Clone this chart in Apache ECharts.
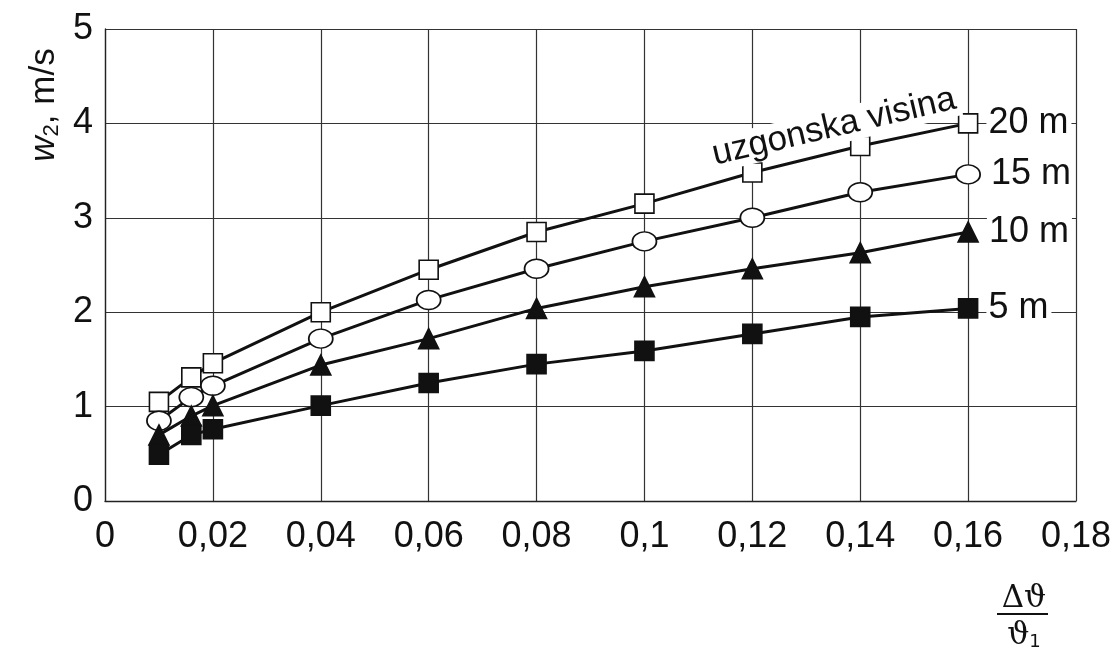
<!DOCTYPE html>
<html>
<head>
<meta charset="utf-8">
<script src="https://cdn.jsdelivr.net/npm/echarts@6/dist/echarts.min.js"></script>
<style>html,body{margin:0;padding:0;background:#fff}#c{width:1118px;height:654px}</style>
</head>
<body>
<div id="c"></div>
<script>
const xValues = [0.01, 0.016, 0.02, 0.04, 0.06, 0.08, 0.1, 0.12, 0.14, 0.16];
const w20 = [1.05, 1.31, 1.46, 2.0, 2.45, 2.85, 3.15, 3.48, 3.76, 4.0];
const w15 = [0.85, 1.1, 1.22, 1.72, 2.13, 2.46, 2.75, 3.0, 3.27, 3.46];
const w10 = [0.7, 0.9, 1.01, 1.44, 1.72, 2.04, 2.27, 2.46, 2.63, 2.85];
const w5 = [0.49, 0.7, 0.76, 1.01, 1.25, 1.45, 1.59, 1.77, 1.95, 2.04];
const seriesNames = ['20 m', '15 m', '10 m', '5 m'];
const annotation = 'uzgonska visina';

const FONT = '"Liberation Sans", Arial, sans-serif';
const chart = echarts.init(document.getElementById('c'), null, {renderer: 'canvas'});

function mk(name, vals, symbol, size, fill) {
  const data = vals.map((v, i) => {
    const item = {value: [xValues[i], v]};
    if (i === vals.length - 1) {
      item.label = {
        show: true, position: 'right', distance: 8, formatter: name,
        fontFamily: FONT, fontSize: 36, color: '#111',
        backgroundColor: '#fff', padding: [0, 3, 0, 2]
      };
    }
    return item;
  });
  return {
    name, type: 'line', data, symbol, symbolSize: size, showAllSymbol: true,
    lineStyle: {color: '#111', width: 3},
    itemStyle: {color: fill, borderColor: '#111', borderWidth: 1.6},
    label: {show: false}, z: 3, animation: false
  };
}

const option = {
  backgroundColor: '#fff',
  animation: false,
  grid: {left: 105, right: 42, top: 29, bottom: 153},
  xAxis: {
    type: 'value', min: 0, max: 0.18, interval: 0.02,
    axisLine: {lineStyle: {color: '#222', width: 1.3}},
    axisTick: {show: false},
    splitLine: {show: true, lineStyle: {color: '#333', width: 1.2}},
    axisLabel: {
      margin: 18, fontFamily: FONT, fontSize: 36, color: '#111',
      formatter: v => String(parseFloat(v.toFixed(2))).replace('.', ',')
    }
  },
  yAxis: {
    type: 'value', min: 0, max: 5, interval: 1,
    axisLine: {show: true, lineStyle: {color: '#222', width: 1.3}},
    axisTick: {show: false},
    splitLine: {show: true, lineStyle: {color: '#333', width: 1.2}},
    axisLabel: {margin: 12, fontFamily: FONT, fontSize: 36, color: '#111'}
  },
  series: [
    mk(seriesNames[0], w20, 'rect', 19, '#fff'),
    mk(seriesNames[1], w15, 'circle', [24, 19], '#fff'),
    mk(seriesNames[2], w10, 'triangle', 20, '#111'),
    mk(seriesNames[3], w5, 'rect', 19, '#111')
  ],
  graphic: [
    {
      type: 'text', x: 834, y: 127, rotation: 0.23, z: 10,
      style: {
        text: annotation, fontFamily: FONT, fontSize: 35, fill: '#111',
        align: 'center', verticalAlign: 'middle',
        backgroundColor: '#fff', padding: [0, 4]
      }
    },
    {
      type: 'text', x: 44, y: 105, rotation: Math.PI / 2, z: 10,
      style: {
        text: '{w|w}{s|2}{n|, m/s}', align: 'center', verticalAlign: 'middle',
        rich: {
          w: {fontFamily: FONT, fontSize: 35, fontStyle: 'italic', fill: '#111'},
          s: {fontFamily: FONT, fontSize: 22, fill: '#111', verticalAlign: 'bottom', padding: [16, 0, 0, 0]},
          n: {fontFamily: FONT, fontSize: 35, fill: '#111'}
        }
      }
    },
    {
      type: 'text', x: 1024, y: 599, z: 10,
      style: {text: 'Δϑ', fontFamily: 'DejaVu Serif, Liberation Serif, serif', fontSize: 31, fill: '#111', align: 'center', verticalAlign: 'middle'}
    },
    {
      type: 'line', z: 10,
      shape: {x1: 997, y1: 614, x2: 1048, y2: 614},
      style: {stroke: '#111', lineWidth: 2}
    },
    {
      type: 'text', x: 1024, y: 636, z: 10,
      style: {
        text: '{a|ϑ}{b|1}', align: 'center', verticalAlign: 'middle',
        rich: {
          a: {fontFamily: 'DejaVu Serif, Liberation Serif, serif', fontSize: 31, fill: '#111'},
          b: {fontFamily: 'DejaVu Sans, sans-serif', fontSize: 18, fill: '#111', padding: [12, 0, 0, 0]}
        }
      }
    }
  ]
};
chart.setOption(option);
</script>
</body>
</html>
